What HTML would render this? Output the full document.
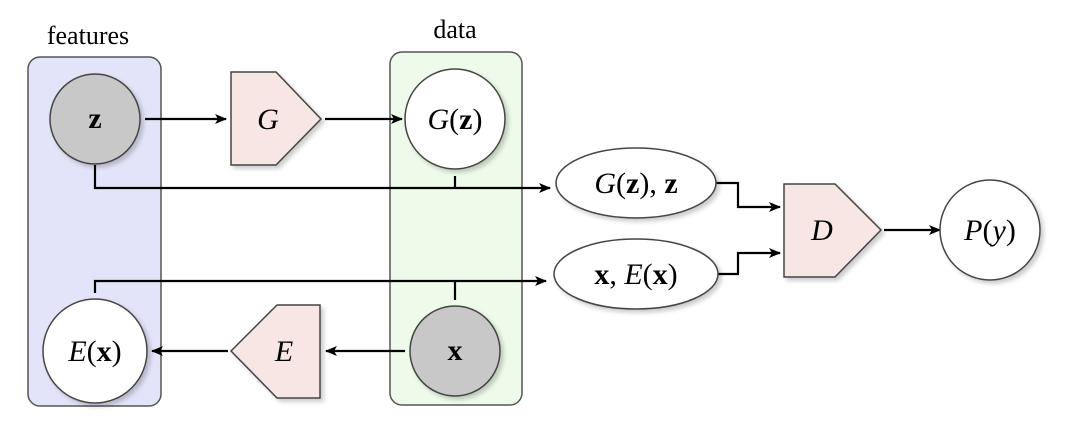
<!DOCTYPE html>
<html><head><style>
body{margin:0;background:#fff}
svg text{font-family:"Liberation Serif",serif}
</style></head><body>
<svg width="1080" height="439" viewBox="0 0 1080 439" xmlns="http://www.w3.org/2000/svg">
<defs>
<marker id="a" markerWidth="12" markerHeight="10" refX="11" refY="5" orient="auto" markerUnits="userSpaceOnUse">
<path d="M0,0 L12,5 L0,10 L3,5 Z" fill="#000"/></marker>
<filter id="s"><feDropShadow dx="3" dy="3" stdDeviation="2" flood-color="#000" flood-opacity="0.2"/></filter>
</defs>
<text x="88" y="44" font-size="26" text-anchor="middle">features</text>
<text x="455" y="38" font-size="26" text-anchor="middle">data</text>
<rect x="28" y="57" width="133" height="349" rx="12" fill="#e3e4fa" stroke="#555" stroke-width="1.5"/>
<rect x="390" y="52" width="132" height="353" rx="12" fill="#eefbea" stroke="#555" stroke-width="1.5"/>
<g stroke="#000" stroke-width="2.2" fill="none">
<line x1="145" y1="119" x2="226" y2="119" marker-end="url(#a)"/>
<line x1="325" y1="119" x2="402" y2="119" marker-end="url(#a)"/>
<polyline points="95,165 95,188 550,188" marker-end="url(#a)"/>
<line x1="455" y1="176" x2="455" y2="188"/>
<polyline points="95,293 95,281 546,281" marker-end="url(#a)"/>
<line x1="455" y1="281" x2="455" y2="300"/>
<line x1="405" y1="351" x2="326" y2="351" marker-end="url(#a)"/>
<line x1="228" y1="351" x2="152" y2="351" marker-end="url(#a)"/>
<polyline points="716,183 738,183 738,207 780,207" marker-end="url(#a)"/>
<polyline points="718,274 738,274 738,253 780,253" marker-end="url(#a)"/>
<line x1="884" y1="230" x2="940" y2="230" marker-end="url(#a)"/>
</g>
<g stroke="#444" stroke-width="1.5" filter="url(#s)">
<circle cx="95" cy="119" r="45" fill="#c8c8c8"/>
<polygon points="231,72 276,72 321,119 276,165 231,165" fill="#f7e6e4"/>
<circle cx="455" cy="119" r="50" fill="#fff"/>
<ellipse cx="636" cy="183" rx="80" ry="35" fill="#fff"/>
<ellipse cx="636" cy="274" rx="82" ry="35" fill="#fff"/>
<circle cx="95" cy="351" r="52" fill="#fff"/>
<polygon points="320,305 320,398 277,398 231,351 277,305" fill="#f7e6e4"/>
<circle cx="455" cy="351" r="45" fill="#c8c8c8"/>
<polygon points="784,184 835,184 881,230 835,277 784,277" fill="#f7e6e4"/>
<circle cx="990" cy="230" r="50" fill="#fff"/>
</g>
<g font-size="30" text-anchor="middle">
<text x="95" y="128" font-weight="bold">z</text>
<text x="268" y="129" font-style="italic">G</text>
<text x="455" y="129"><tspan font-style="italic">G</tspan>(<tspan font-weight="bold">z</tspan>)</text>
<text x="636" y="193"><tspan font-style="italic">G</tspan>(<tspan font-weight="bold">z</tspan>), <tspan font-weight="bold">z</tspan></text>
<text x="636" y="284"><tspan font-weight="bold">x</tspan>, <tspan font-style="italic">E</tspan>(<tspan font-weight="bold">x</tspan>)</text>
<text x="95" y="361"><tspan font-style="italic">E</tspan>(<tspan font-weight="bold">x</tspan>)</text>
<text x="284" y="361" font-style="italic">E</text>
<text x="455" y="360" font-weight="bold">x</text>
<text x="822" y="240" font-style="italic">D</text>
<text x="990" y="240"><tspan font-style="italic">P</tspan>(<tspan font-style="italic">y</tspan>)</text>
</g>
</svg>
</body></html>
